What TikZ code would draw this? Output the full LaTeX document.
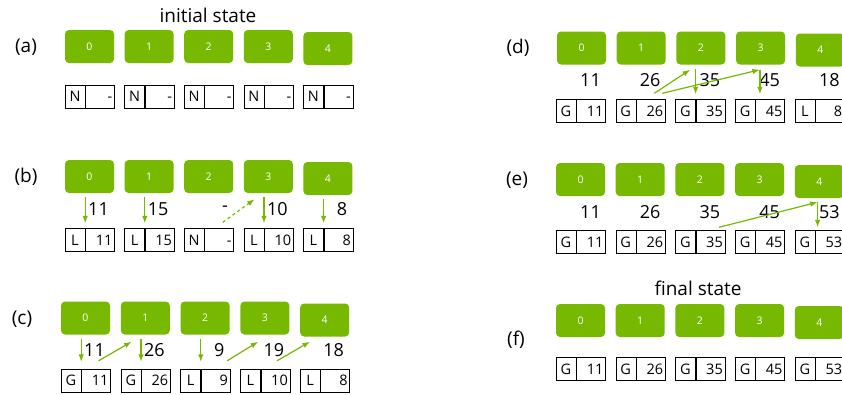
\documentclass[tikz,border=0pt]{standalone}
\usepackage{fontspec}
\setmainfont{Open Sans}
\usetikzlibrary{arrows.meta,calc,positioning}
\definecolor{BlkColor}{RGB}{118,185,0}

\begin{document}
\begin{tikzpicture}[x=1pt,y=-1pt,
  blk/.style={fill=BlkColor,rounded corners=4pt,minimum width=49pt,minimum height=33pt,
              inner sep=0pt,text=white,font=\fontsize{10.5}{10.5}\selectfont},
  flag/.style={draw,minimum width=20pt,minimum height=23pt,inner sep=0pt,
               text height=10.4pt,text depth=0pt,font=\fontsize{14.5}{14.5}\selectfont},
  val/.style={draw,minimum height=23pt,text width=25pt,align=right,inner xsep=2pt,
              inner ysep=0pt,text height=10.4pt,text depth=0pt,
              font=\fontsize{14.5}{14.5}\selectfont},
  num/.style={anchor=east,inner sep=0pt,font=\fontsize{18}{18}\selectfont},
  lbl/.style={font=\fontsize{19}{19}\selectfont},
  flow/.style={BlkColor,line width=1.2pt,-{Latex[length=7.5pt,width=5.5pt]}}]
\useasboundingbox (0,0) rectangle (842,394);
\clip (0,0) rectangle (842,394);

% (a) initial state
\node[lbl] (ttlA) at (208,15) {initial state};
\node[lbl] (la) at (26,47) {(a)};
\foreach \i in {0,...,4}
  \node[blk] (a\i) at ({89.5+59.6*\i},{46.5+2*(\i==4)}) {\i};
\foreach \f/\v [count=\i from 0] in {N/-,N/-,N/-,N/-,N/-} {
  \node[flag] (aF\i) at ({75+59.6*\i},96.5) {\f};
  \node[val,right=0pt of aF\i] (aV\i) {\v};
}

% (b) local reductions published
\node[lbl] (lb) at (26,177) {(b)};
\foreach \i in {0,...,4}
  \node[blk] (b\i) at ({89.5+59.6*\i},{176.5+2*(\i==4)}) {\i};
\foreach \f/\v [count=\i from 0] in {L/11,L/15,N/-,L/10,L/8} {
  \node[flag] (bF\i) at ({75+59.6*\i},240) {\f};
  \node[val,right=0pt of bF\i] (bV\i) {\v};
  \node[num] (bN\i) at ({65+59.6*\i+44},209) {\v};
}
\foreach \i in {0,1,3,4}
  \draw[flow,shorten <=4pt,shorten >=5pt] (b\i.south -| bF\i.north east) -- (bF\i.north east);
\draw[flow,dashed] ($(bV2.north east)+(-11,-6)$) -- ($(b3.south west)+(11,6)$);

% (c) inclusive prefixes
\node[lbl] (lc) at (22,319) {(c)};
\foreach \i in {0,...,4}
  \node[blk] (c\i) at ({85.5+59.8*\i},{318+2*(\i==4)}) {\i};
\foreach \f/\v/\n [count=\i from 0] in {G/11/11,G/26/26,L/9/9,L/10/19,L/8/18} {
  \node[flag] (cF\i) at ({71+59.8*\i},380.5) {\f};
  \node[val,right=0pt of cF\i] (cV\i) {\v};
  \node[num] (cN\i) at ({61+59.8*\i+44},350) {\n};
}
\foreach \i in {0,1,2}
  \draw[flow,shorten <=4pt,shorten >=7pt] (c\i.south -| cF\i.north east) -- (cF\i.north east);
\draw[flow] ($(cV0.north east)+(-12,-8)$) -- ($(c1.south west)+(11,7)$);
\draw[flow] ($(cV2.north east)+(-3,-8)$) -- ($(c3.south west)+(18,7)$);
\draw[flow] ($(cV3.north east)+(-13,-8)$) -- ($(c4.south west)+(10,5)$);

% (d)
\node[lbl] (ld) at (518,48) {(d)};
\foreach \i in {0,...,4}
  \node[blk] (d\i) at ({581.5+59.7*\i},{48+2*(\i==4)}) {\i};
\foreach \f/\v/\n [count=\i from 0] in {G/11/11,G/26/26,G/35/35,G/45/45,L/8/18} {
  \node[flag] (dF\i) at ({566+59.7*\i},111) {\f};
  \node[val,right=0pt of dF\i] (dV\i) {\v};
  \node[num] (dN\i) at ({556+59.7*\i+45},80) {\n};
}
\coordinate (d3in) at ($(d3.south west)+(24,5)$);
\draw[flow] ($(dV1.north east)+(-11,-6)$) -- ($(d2.south west)+(14,5)$);
\draw[flow] ($(dV1.north east)+(-3,-6)$) -- (d3in);
\draw[flow,shorten <=4pt,shorten >=5pt] (d2.south -| dF2.north east) -- (dF2.north east);
\draw[flow,shorten >=5pt] (d3in) -- (d3in |- dV3.north);

% (e)
\node[lbl] (le) at (517,180) {(e)};
\foreach \i in {0,...,4}
  \node[blk] (e\i) at ({580.5+59.7*\i},{179.5+2*(\i==4)}) {\i};
\foreach \f/\v [count=\i from 0] in {G/11,G/26,G/35,G/45,G/53} {
  \node[flag] (eF\i) at ({566+59.7*\i},242) {\f};
  \node[val,right=0pt of eF\i] (eV\i) {\v};
  \node[num] (eN\i) at ({556+59.7*\i+45},212) {\v};
}
\coordinate (e4in) at ($(e4.south west)+(23,4)$);
\draw[flow] ($(eV2.north east)+(-6,-3)$) -- (e4in);
\draw[flow,shorten >=3pt] (e4in) -- (e4in |- eV4.north);

% (f) final state
\node[lbl] (ttlF) at (698,288) {final state};
\node[lbl] (lf) at (516,340) {(f)};
\foreach \i in {0,...,4}
  \node[blk] (f\i) at ({580.5+59.7*\i},{320.5+2*(\i==4)}) {\i};
\foreach \f/\v [count=\i from 0] in {G/11,G/26,G/35,G/45,G/53} {
  \node[flag] (fF\i) at ({566+59.7*\i},369) {\f};
  \node[val,right=0pt of fF\i] (fV\i) {\v};
}
\end{tikzpicture}
\end{document}
